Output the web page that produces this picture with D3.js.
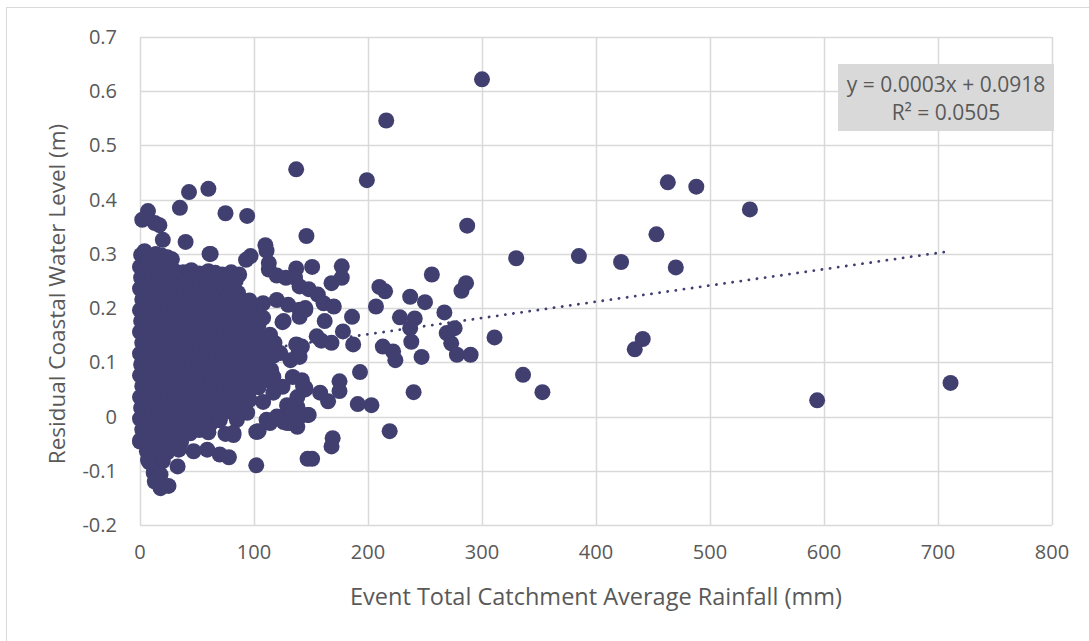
<!DOCTYPE html>
<html>
<head>
<meta charset="utf-8">
<script src="https://cdn.jsdelivr.net/npm/d3@7"></script>
<style>
  body { margin: 0; background: #fff; }
  svg { display: block; font-family: "Open Sans", sans-serif; }
</style>
</head>
<body>
<svg id="chart" width="1089" height="641"></svg>
<script>
// axis ticks
var xTicks = [0, 100, 200, 300, 400, 500, 600, 700, 800];
var yTicks = [-0.2, -0.1, 0, 0.1, 0.2, 0.3, 0.4, 0.5, 0.6, 0.7];

// trendline
var trendSlope = 0.0003;
var trendIntercept = 0.0918;
var trendLabel = ["y = 0.0003x + 0.0918", "R\u00b2 = 0.0505"];

// [rainfall mm, residual m] - dense cluster of small events
var clusterEvents = [
  [1,0.298],[4,0.302],[9,0.296],[14,0.300],[19,0.297],[24,0.294],[28,0.290],
  [0,0.276],[3,0.272],[8,0.279],[13,0.274],[18,0.271],[23,0.277],[30,0.269],[38,0.266],[45,0.270],[52,0.264],[60,0.268],[66,0.265],[72,0.262],[80,0.266],[87,0.262],
  [1,0.256],[6,0.252],[11,0.258],[16,0.254],[21,0.250],[27,0.257],[33,0.253],[39,0.249],[46,0.255],[53,0.251],[59,0.247],[65,0.253],[72,0.249],[78,0.245],[84,0.251],
  [0,0.236],[5,0.232],[10,0.238],[15,0.234],[20,0.230],[26,0.237],[32,0.233],[38,0.229],[44,0.235],[50,0.231],[56,0.227],[62,0.233],[68,0.229],[74,0.236],[80,0.232],[86,0.228],
  [2,0.216],[7,0.212],[12,0.218],[17,0.214],[23,0.210],[29,0.217],[35,0.213],[41,0.209],[47,0.215],[53,0.211],[59,0.207],[65,0.213],[71,0.209],[77,0.216],[83,0.212],[90,0.208],[96,0.214],
  [0,0.196],[4,0.192],[9,0.198],[14,0.194],[19,0.190],[25,0.197],[31,0.193],[37,0.189],[43,0.195],[49,0.191],[55,0.187],[61,0.193],[67,0.189],[73,0.196],[79,0.192],[86,0.188],[93,0.194],[99,0.190],
  [1,0.176],[6,0.172],[11,0.178],[16,0.174],[22,0.170],[28,0.177],[34,0.173],[40,0.169],[46,0.175],[52,0.171],[58,0.167],[64,0.173],[70,0.169],[76,0.176],[83,0.172],[90,0.168],[97,0.174],[104,0.170],
  [0,0.156],[5,0.152],[10,0.158],[15,0.154],[20,0.150],[26,0.157],[32,0.153],[38,0.149],[44,0.155],[50,0.151],[56,0.147],[62,0.153],[68,0.149],[74,0.156],[80,0.152],[87,0.148],[94,0.154],[101,0.150],[108,0.146],
  [2,0.136],[7,0.132],[12,0.138],[17,0.134],[23,0.130],[29,0.137],[35,0.133],[41,0.129],[47,0.135],[53,0.131],[59,0.127],[65,0.133],[71,0.129],[77,0.136],[84,0.132],[91,0.128],[98,0.134],[106,0.130],[113,0.126],
  [0,0.116],[4,0.112],[9,0.118],[14,0.114],[19,0.110],[25,0.117],[31,0.113],[37,0.109],[43,0.115],[49,0.111],[55,0.107],[61,0.113],[67,0.109],[73,0.116],[80,0.112],[87,0.108],[94,0.114],[101,0.110],[109,0.106],[117,0.112],
  [1,0.096],[6,0.092],[11,0.098],[16,0.094],[22,0.090],[28,0.097],[34,0.093],[40,0.089],[46,0.095],[52,0.091],[58,0.087],[64,0.093],[70,0.089],[77,0.096],[84,0.092],[91,0.088],[99,0.094],[107,0.090],[115,0.086],
  [0,0.076],[5,0.072],[10,0.078],[15,0.074],[20,0.070],[26,0.077],[32,0.073],[38,0.069],[44,0.075],[50,0.071],[56,0.067],[62,0.073],[69,0.069],[76,0.076],[83,0.072],[90,0.068],[98,0.074],[106,0.070],[114,0.066],
  [2,0.056],[7,0.052],[12,0.058],[17,0.054],[23,0.050],[29,0.057],[35,0.053],[41,0.049],[47,0.055],[53,0.051],[59,0.047],[66,0.053],[73,0.049],[80,0.056],[88,0.052],[96,0.048],[104,0.054],
  [0,0.036],[4,0.032],[9,0.038],[14,0.034],[19,0.030],[25,0.037],[31,0.033],[37,0.029],[43,0.035],[49,0.031],[56,0.027],[63,0.033],[70,0.029],[78,0.036],[86,0.032],[94,0.028],
  [1,0.016],[6,0.012],[11,0.018],[16,0.014],[22,0.010],[28,0.017],[34,0.013],[40,0.009],[47,0.015],[54,0.011],[61,0.007],[68,0.013],[76,0.009],[84,0.016],
  [0,-0.004],[5,-0.008],[10,-0.002],[15,-0.006],[21,-0.010],[27,-0.003],[33,-0.007],[40,-0.011],[47,-0.005],[54,-0.009],[62,-0.013],[70,-0.007],
  [2,-0.024],[7,-0.028],[12,-0.022],[18,-0.026],[24,-0.030],[30,-0.023],[37,-0.027],[44,-0.031],[52,-0.025],[60,-0.029],
  [0,-0.044],[5,-0.048],[10,-0.042],[16,-0.046],[22,-0.050],[29,-0.043],[36,-0.047],
  [6,-0.064],[11,-0.068],[17,-0.062],[24,-0.066],
  [8,-0.084],[13,-0.088],[20,-0.082],
  [12,-0.104],[17,-0.108]
];

// medium sized events around 80-150 mm
var spreadEvents = [
  [96,0.202],[108,0.209],[120,0.215],[130,0.206],[140,0.197],[145,0.200],[125,0.174],[108,0.182],
  [114,0.151],[118,0.136],[138,0.132],[139,0.117],[132,0.104],[96,0.160],[103,0.147],[90,0.123],
  [108,0.110],[123,0.117],[134,0.073],[142,0.067],[145,0.053],[138,0.036],[125,0.055],[117,0.073],
  [108,0.067],[99,0.073],[90,0.067],[85,0.044],[96,0.031],[108,0.027],[117,0.044],[129,0.021],
  [138,0.018],[125,0.000],[140,0.000],[147,0.003],[132,-0.012],[138,-0.019],[103,-0.028],[111,-0.006],
  [94,0.007],[85,-0.006],[82,-0.030],[142,0.129],[140,0.110],[140,0.184],[145,0.197]
];

// larger and scattered events
var outlierEvents = [
  [300,0.622],[216,0.546],[137,0.456],[199,0.436],[463,0.432],[488,0.424],[535,0.382],[453,0.336],
  [385,0.296],[422,0.285],[470,0.275],[330,0.292],[287,0.352],[256,0.262],[441,0.143],[434,0.124],
  [311,0.146],[336,0.077],[353,0.045],[594,0.030],[711,0.062],[290,0.114],[278,0.114],[247,0.110],
  [240,0.045],[219,-0.027],[203,0.021],[191,0.023],
  [43,0.414],[60,0.420],[35,0.385],[7,0.379],[2,0.363],[13,0.357],[17,0.353],[75,0.375],[94,0.370],
  [146,0.333],[20,0.326],[40,0.322],[62,0.300],[110,0.316],[111,0.306],[93,0.289],[97,0.296],
  [177,0.277],[137,0.273],[151,0.276],[113,0.283],[113,0.271],[120,0.260],[136,0.256],[140,0.240],
  [177,0.256],[168,0.246],[148,0.235],[156,0.225],[161,0.209],[170,0.203],[186,0.184],[210,0.239],
  [215,0.231],[207,0.203],[162,0.176],[155,0.148],[159,0.140],[168,0.136],[178,0.157],[187,0.133],
  [213,0.129],[126,0.176],[143,0.197],[137,0.133],[193,0.082],[175,0.065],[175,0.047],[158,0.044],
  [165,0.028],[169,-0.040],[168,-0.055],[143,0.056],[145,0.050],[133,0.010],[137,-0.006],[148,0.003],
  [104,-0.027],[237,0.221],[250,0.211],[286,0.246],[282,0.232],[228,0.183],[241,0.181],
  [237,0.163],[238,0.138],[267,0.192],[269,0.154],[276,0.163],[273,0.135],[222,0.120],[224,0.104],
  [128,0.256],[4,0.305],[7,0.292],[61,0.300],
  [18,-0.132],[25,-0.128],[13,-0.120],[18,-0.107],[9,-0.085],[7,-0.080],[33,-0.092],[102,-0.090],
  [70,-0.070],[78,-0.075],[34,-0.061],[47,-0.064],[59,-0.061],[75,-0.032],[82,-0.034],[102,-0.028],
  [0,-0.046],[126,-0.010],[114,-0.012],[147,-0.078],[151,-0.078],[120,0.000],[129,-0.012]
];

var markColor = "#413f70";
var textColor = "#595959";
var gridColor = "#d9d9d9";

var svg = d3.select("svg#chart");
var margin = {left: 140, right: 37, top: 37, bottom: 116};
var width = 1089, height = 641;

var x = d3.scaleLinear().domain([0, 800]).range([margin.left, width - margin.right]);
var y = d3.scaleLinear().domain([-0.2, 0.7]).range([height - margin.bottom, margin.top]);

// outer chart border (runs off the right and bottom)
svg.append("rect")
    .attr("x", 6.5).attr("y", 7.5)
    .attr("width", 1100).attr("height", 700)
    .attr("fill", "none")
    .attr("stroke", gridColor);

// gridlines
svg.append("g").selectAll("line")
    .data(yTicks)
    .enter().append("line")
    .attr("x1", x(0)).attr("x2", x(800))
    .attr("y1", d => Math.round(y(d)) + 0.5)
    .attr("y2", d => Math.round(y(d)) + 0.5)
    .attr("stroke", gridColor).attr("stroke-width", 1.5);

svg.append("g").selectAll("line")
    .data(xTicks)
    .enter().append("line")
    .attr("y1", y(-0.2)).attr("y2", y(0.7))
    .attr("x1", d => Math.round(x(d)) + 0.5)
    .attr("x2", d => Math.round(x(d)) + 0.5)
    .attr("stroke", gridColor).attr("stroke-width", 1.5);

// tick labels
svg.append("g").selectAll("text")
    .data(yTicks)
    .enter().append("text")
    .attr("x", x(0) - 23)
    .attr("y", d => y(d))
    .attr("dy", "0.35em")
    .attr("text-anchor", "end")
    .attr("fill", textColor)
    .style("font-size", "20px")
    .text(d => String(Math.round(d * 10) / 10));

svg.append("g").selectAll("text")
    .data(xTicks)
    .enter().append("text")
    .attr("x", d => x(d))
    .attr("y", y(-0.2) + 27)
    .attr("dy", "0.35em")
    .attr("text-anchor", "middle")
    .attr("fill", textColor)
    .style("font-size", "20px")
    .text(d => d);

// axis titles
svg.append("text")
    .attr("x", (x(0) + x(800)) / 2)
    .attr("y", 597)
    .attr("dy", "0.35em")
    .attr("text-anchor", "middle")
    .attr("fill", textColor)
    .style("font-size", "23.5px")
    .text("Event Total Catchment Average Rainfall (mm)");

svg.append("text")
    .attr("transform", "translate(57,294)rotate(-90)")
    .attr("dy", "0.35em")
    .attr("text-anchor", "middle")
    .attr("fill", textColor)
    .style("font-size", "22.5px")
    .text("Residual Coastal Water Level (m)");

// linear trendline, drawn under the markers
var allEvents = clusterEvents.concat(spreadEvents, outlierEvents);
var xMin = d3.min(allEvents, d => d[0]);
var xMax = d3.max(allEvents, d => d[0]);

svg.append("line")
    .attr("x1", x(xMin)).attr("y1", y(trendIntercept + trendSlope * xMin))
    .attr("x2", x(xMax)).attr("y2", y(trendIntercept + trendSlope * xMax))
    .attr("stroke", markColor)
    .attr("stroke-width", 2.8)
    .attr("stroke-linecap", "round")
    .attr("stroke-dasharray", "0.1,8.1");

svg.append("g").selectAll("circle")
    .data(allEvents)
    .enter().append("circle")
    .attr("cx", d => x(d[0]))
    .attr("cy", d => y(d[1]))
    .attr("r", 8)
    .attr("fill", markColor);

// trendline equation box
var box = svg.append("g");
box.append("rect")
    .attr("x", 838).attr("y", 64)
    .attr("width", 216).attr("height", 67)
    .attr("fill", "#d9d9d9");

box.selectAll("text")
    .data(trendLabel)
    .enter().append("text")
    .attr("x", 946)
    .attr("y", (d, i) => 85 + i * 28)
    .attr("dy", "0.35em")
    .attr("text-anchor", "middle")
    .attr("fill", textColor)
    .style("font-size", "21px")
    .text(d => d);
</script>
</body>
</html>
